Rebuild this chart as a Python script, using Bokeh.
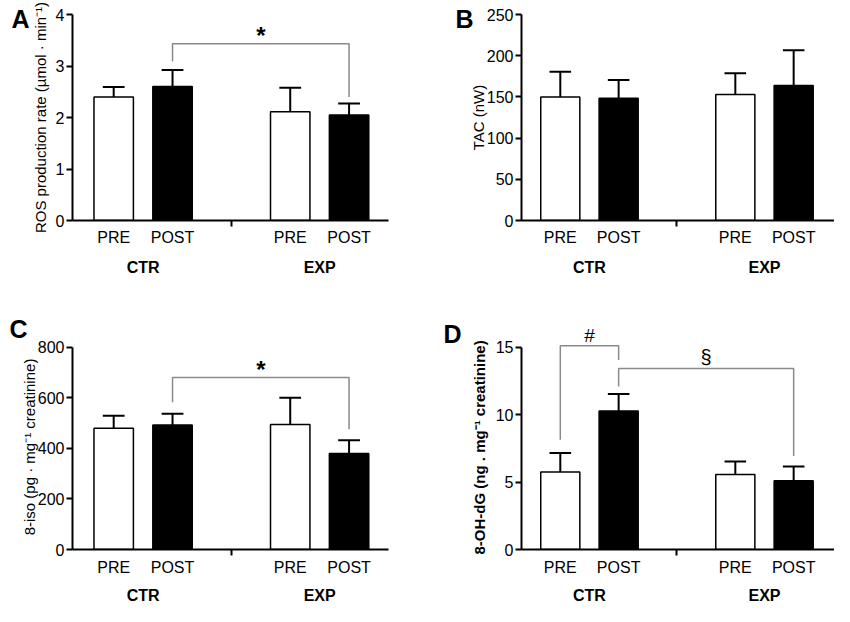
import math
from bokeh.plotting import figure
from bokeh.models import FixedTicker, LinearAxis, Range1d, Title
from bokeh.layouts import column, row
from bokeh.embed import file_html
from bokeh.resources import INLINE
from bokeh.core.properties import value

# ---------------- data ----------------
groups = ["CTR", "EXP"]
times = ["PRE", "POST", "PRE", "POST"]
bar_x = [1, 2, 4, 5]
group_x = [1.5, 4.5]

ros_mean = [2.40, 2.60, 2.11, 2.05]
ros_err = [0.19, 0.32, 0.47, 0.22]
ros_ticks = [0, 1, 2, 3, 4]

tac_mean = [150.0, 148.5, 152.8, 163.8]
tac_err = [30.6, 22.0, 25.9, 42.7]
tac_ticks = [0, 50, 100, 150, 200, 250]

iso_mean = [480, 493, 495, 380]
iso_err = [50, 45, 106, 53]
iso_ticks = [0, 200, 400, 600, 800]

ohdg_mean = [5.76, 10.28, 5.57, 5.10]
ohdg_err = [1.41, 1.26, 0.97, 1.06]
ohdg_ticks = [0, 5, 10, 15]

# significance brackets: (from bar, to bar, left end, top, right end, symbol)
ros_brackets = [(1, 3, 3.09, 3.43, 2.40, "*")]
iso_brackets = [(1, 3, 583, 681, 476, "*")]
ohdg_brackets = [(0, 1, 8.14, 15.12, 14.06, "#"), (1, 3, 12.09, 13.43, 6.94, "§")]

FONT = "Liberation Sans"
BR_COLOR = "#8a8a8a"


def make_panel(mean, err, yticks, ylabel, letter, brackets, border, xr, ext_px,
               letter_mode, letter_pos, ylabel_standoff=4, ylabel_bold=False,
               ylabel_title=None, sub_standoff=2, grp_standoff=10, W=417, H=301):
    left, right, top, bottom = border
    fh = H - top - bottom
    ppy = (fh - ext_px) / yticks[-1]
    y_end = fh / ppy
    p = figure(width=W, height=H, output_backend="svg", toolbar_location=None,
               x_range=Range1d(*xr), y_range=Range1d(0, y_end),
               min_border_left=left, min_border_right=right,
               min_border_top=top, min_border_bottom=bottom)
    p.xaxis.visible = False
    p.yaxis.visible = False
    p.grid.visible = False
    p.outline_line_color = None
    p.background_fill_color = "white"
    p.border_fill_color = "white"

    # y axis
    ya = LinearAxis(ticker=FixedTicker(ticks=yticks, minor_ticks=[]),
                    bounds=(0, yticks[-1]))
    ya.axis_line_width = 2
    ya.major_tick_line_width = 2
    ya.major_tick_out = 6
    ya.major_tick_in = 0
    ya.major_label_standoff = 2
    ya.major_label_text_font = FONT
    ya.major_label_text_font_size = "16px"
    ya.major_label_text_color = "black"
    if ylabel_title is None:
        ya.axis_label = ylabel
        ya.axis_label_text_font = FONT
        ya.axis_label_text_font_size = "15px"
        ya.axis_label_text_font_style = "bold" if ylabel_bold else "normal"
        ya.axis_label_standoff = ylabel_standoff
        ya.axis_label_text_color = "black"
    p.add_layout(ya, "left")

    if ylabel_title is not None:
        off, stand = ylabel_title
        p.add_layout(Title(text=ylabel, align="left", offset=off, standoff=stand,
                           text_font=FONT, text_font_size="15px",
                           text_font_style="bold" if ylabel_bold else "normal",
                           text_color="black"), "left")

    # panel letter
    if letter_mode == "axis":
        standoff, py = letter_pos
        ly = (H - bottom - py) / ppy
        la = LinearAxis(ticker=FixedTicker(ticks=[ly], minor_ticks=[]),
                        major_label_overrides={ly: letter})
        la.axis_line_color = None
        la.major_tick_line_color = None
        la.minor_tick_line_color = None
        la.major_tick_out = 0
        la.major_tick_in = 0
        la.major_label_standoff = standoff
        la.major_label_text_font = FONT
        la.major_label_text_font_size = "25px"
        la.major_label_text_font_style = "bold"
        la.major_label_text_color = "black"
        p.add_layout(la, "left")
    else:
        offset, standoff = letter_pos
        p.add_layout(Title(text=letter, align="left", offset=offset, standoff=standoff,
                           text_font=FONT, text_font_size="25px", text_font_style="bold",
                           text_color="black"), "above")

    # x axis (sub labels + group separator tick)
    mid = (bar_x[1] + bar_x[2]) / 2
    xa = LinearAxis(ticker=FixedTicker(ticks=bar_x, minor_ticks=[mid]),
                    major_label_overrides={bx: t for bx, t in zip(bar_x, times)})
    xa.axis_line_width = 2
    xa.major_tick_out = 0
    xa.major_tick_in = 0
    xa.major_tick_line_color = None
    xa.minor_tick_out = 6
    xa.minor_tick_in = 0
    xa.minor_tick_line_width = 2
    xa.major_label_standoff = sub_standoff
    xa.major_label_text_font = FONT
    xa.major_label_text_font_size = "16px"
    xa.major_label_text_color = "black"
    p.add_layout(xa, "below")

    ga = LinearAxis(ticker=FixedTicker(ticks=group_x, minor_ticks=[]),
                    major_label_overrides={gx: g for gx, g in zip(group_x, groups)})
    ga.axis_line_color = None
    ga.major_tick_line_color = None
    ga.minor_tick_line_color = None
    ga.major_tick_out = 0
    ga.major_label_standoff = grp_standoff
    ga.major_label_text_font = FONT
    ga.major_label_text_font_size = "16px"
    ga.major_label_text_font_style = "bold"
    ga.major_label_text_color = "black"
    p.add_layout(ga, "below")

    # error bars (upper only)
    tops = [m + e for m, e in zip(mean, err)]
    cap = 0.185
    p.segment(x0=bar_x, y0=mean, x1=bar_x, y1=tops, line_color="black", line_width=2)
    p.segment(x0=[b - cap for b in bar_x], y0=tops, x1=[b + cap for b in bar_x], y1=tops,
              line_color="black", line_width=2)

    # bars
    fills = ["white" if t == "PRE" else "black" for t in times]
    p.vbar(x=bar_x, top=mean, bottom=0, width=0.67, fill_color=fills,
           line_color="black", line_width=1.5)

    # brackets
    for (i, j, yl, yt, yr, sym) in brackets:
        xl, xr_ = bar_x[i], bar_x[j]
        p.line(x=[xl, xl, xr_, xr_], y=[yl, yt, yt, yr], line_color=BR_COLOR, line_width=1.5)
        if sym == "*":
            size, style, off = "24px", "bold", 8
        elif sym == "#":
            size, style, off = "19px", "normal", 10
        else:
            size, style, off = "20px", "normal", 12
        p.text(x=[(xl + xr_) / 2], y=[yt + off / ppy], text=[sym],
               text_font=value(FONT), text_font_size=size, text_font_style=style,
               text_align="center", text_baseline="middle", text_color="black")
    return p


TOP_H, BOT_H = 301, 305

pA = make_panel(ros_mean, ros_err, ros_ticks, "ROS production rate (µmol · min⁻¹)", "A",
                ros_brackets, (72, 29, 14, 81), (0.30, 5.67), 0, "axis", (-1, 18.5),
                ylabel_standoff=4, H=TOP_H)
pB = make_panel(tac_mean, tac_err, tac_ticks, "TAC (nW)", "B", [],
                (104, 0, 14, 81), (0.335, 5.70), 0, "axis", (-7, 18.5),
                ylabel_standoff=-3, H=TOP_H)
pC = make_panel(iso_mean, iso_err, iso_ticks, "8-iso (pg · mg⁻¹ creatinine)", "C",
                iso_brackets, (72, 29, 43, 56), (0.30, 5.67), 3, "title", (-63, 4),
                ylabel_standoff=-3, sub_standoff=3, grp_standoff=8, H=BOT_H)
pD = make_panel(ohdg_mean, ohdg_err, ohdg_ticks, "8-OH-dG (ng . mg⁻¹ creatinine)", "D",
                ohdg_brackets, (104, 0, 18, 56), (0.335, 5.70), 28, "axis", (2, 33),
                ylabel_bold=True, ylabel_title=(-5, 10),
                sub_standoff=3, grp_standoff=8, H=BOT_H)

layout = row(column(pA, pC), column(pB, pD))
open("out.html", "w").write(file_html(layout, INLINE))
